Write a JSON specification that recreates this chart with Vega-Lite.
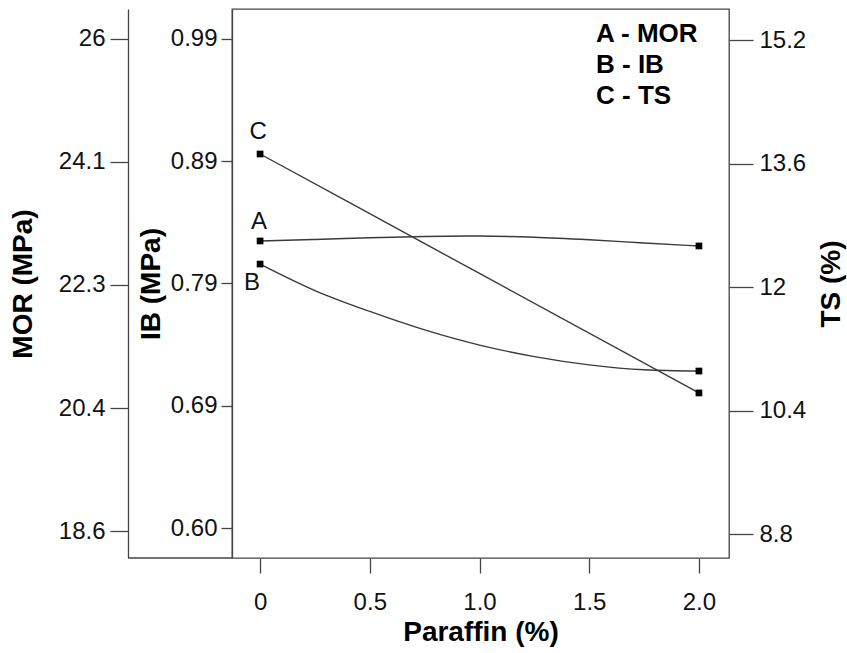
{
  "$schema": "https://vega.github.io/schema/vega-lite/v6.json",
  "width": 497,
  "height": 549,
  "autosize": {"type": "none"},
  "padding": {"left": 232, "top": 9, "right": 118, "bottom": 95},
  "background": "white",
  "config": {
    "font": "Liberation Sans",
    "view": {"stroke": "#444", "strokeWidth": 1.3},
    "axis": {
      "grid": false,
      "domainColor": "#444",
      "domainWidth": 1.3,
      "tickColor": "#444",
      "tickWidth": 1.3,
      "labelColor": "#111",
      "labelFont": "Liberation Sans",
      "labelFontSize": 24,
      "titleFont": "Liberation Sans",
      "titleFontSize": 28,
      "titleFontWeight": "bold",
      "titleColor": "#000"
    }
  },
  "data": {
    "values": [
      {"curve": "A", "paraffin": 0, "value": 22.962},
      {"curve": "A", "paraffin": 0.25, "value": 22.985},
      {"curve": "A", "paraffin": 0.5, "value": 23.010},
      {"curve": "A", "paraffin": 0.75, "value": 23.030},
      {"curve": "A", "paraffin": 1.0, "value": 23.037},
      {"curve": "A", "paraffin": 1.25, "value": 23.018},
      {"curve": "A", "paraffin": 1.5, "value": 22.980},
      {"curve": "A", "paraffin": 1.75, "value": 22.932},
      {"curve": "A", "paraffin": 2.0, "value": 22.887},
      {"curve": "B", "paraffin": 0, "value": 0.8105},
      {"curve": "B", "paraffin": 0.25, "value": 0.7894},
      {"curve": "B", "paraffin": 0.5, "value": 0.7727},
      {"curve": "B", "paraffin": 0.75, "value": 0.7580},
      {"curve": "B", "paraffin": 1.0, "value": 0.7459},
      {"curve": "B", "paraffin": 1.25, "value": 0.7367},
      {"curve": "B", "paraffin": 1.5, "value": 0.7301},
      {"curve": "B", "paraffin": 1.75, "value": 0.7262},
      {"curve": "B", "paraffin": 2.0, "value": 0.7252},
      {"curve": "C", "paraffin": 0, "value": 13.727},
      {"curve": "C", "paraffin": 1.0, "value": 12.178},
      {"curve": "C", "paraffin": 2.0, "value": 10.629}
    ]
  },
  "layer": [
    {
      "encoding": {
        "x": {
          "field": "paraffin",
          "type": "quantitative",
          "scale": {"domain": [-0.128, 2.137], "nice": false, "zero": false},
          "axis": {
            "title": "Paraffin (%)",
            "values": [0, 0.5, 1, 1.5, 2],
            "labelExpr": "datum.value == 0 ? '0' : format(datum.value, '.1f')",
            "tickSize": 15,
            "labelPadding": 17,
            "titlePadding": 4,
            "domain": false
          }
        },
        "y": {
          "field": "value",
          "type": "quantitative",
          "scale": {"domain": [18.194, 26.451], "nice": false, "zero": false},
          "axis": {
            "orient": "left",
            "offset": 104,
            "title": "MOR (MPa)",
            "values": [18.6, 20.45, 22.3, 24.15, 26],
            "labelExpr": "datum.value == 26 ? '26' : format(floor(datum.value * 10 + 0.000001) / 10, '.1f')",
            "tickSize": 18,
            "labelPadding": 5,
            "titlePadding": 21
          }
        }
      },
      "layer": [
        {
          "transform": [{"filter": "datum.curve == 'A'"}],
          "mark": {"type": "line", "color": "#3a3a3a", "strokeWidth": 1.4, "interpolate": "monotone"}
        },
        {
          "transform": [{"filter": "datum.curve == 'A' && (datum.paraffin == 0 || datum.paraffin == 2)"}],
          "mark": {"type": "point", "shape": "square", "filled": true, "size": 45, "opacity": 1},
          "encoding": {
            "color": {
              "field": "curve",
              "type": "nominal",
              "scale": {"domain": ["A", "B", "C"], "range": ["#000", "#000", "#000"]},
              "legend": {
                "title": null,
                "orient": "none",
                "legendX": 338,
                "legendY": 12,
                "padding": 0,
                "symbolSize": 0,
                "symbolOpacity": 0,
                "symbolStrokeWidth": 0,
                "labelOffset": 0,
                "labelFontSize": 26,
                "labelFontWeight": "bold",
                "labelColor": "#000",
                "labelFont": "Liberation Sans",
                "rowPadding": 5,
                "labelExpr": "datum.label == 'A' ? 'A - MOR' : datum.label == 'B' ? 'B - IB' : 'C - TS'"
              }
            }
          }
        },
        {
          "transform": [{"filter": "datum.curve == 'A' && datum.paraffin == 0"}],
          "mark": {"type": "text", "fontSize": 24, "color": "#111", "dy": -19, "dx": -1},
          "encoding": {"text": {"field": "curve"}}
        }
      ]
    },
    {
      "encoding": {
        "x": {
          "field": "paraffin",
          "type": "quantitative",
          "scale": {"domain": [-0.128, 2.137], "nice": false, "zero": false},
          "axis": {
            "title": "Paraffin (%)",
            "values": [0, 0.5, 1, 1.5, 2],
            "labelExpr": "datum.value == 0 ? '0' : format(datum.value, '.1f')",
            "tickSize": 15,
            "labelPadding": 17,
            "titlePadding": 4,
            "domain": false
          }
        },
        "y": {
          "field": "value",
          "type": "quantitative",
          "scale": {"domain": [0.5761, 1.0139], "nice": false, "zero": false},
          "axis": {
            "orient": "left",
            "offset": 0,
            "title": "IB (MPa)",
            "values": [0.6, 0.6975, 0.795, 0.8925, 0.99],
            "labelExpr": "format(floor(datum.value * 100 + 0.000001) / 100, '.2f')",
            "tickSize": 11,
            "labelPadding": 4,
            "titlePadding": 5
          }
        }
      },
      "layer": [
        {
          "transform": [{"filter": "datum.curve == 'B'"}],
          "mark": {"type": "line", "color": "#3a3a3a", "strokeWidth": 1.4, "interpolate": "monotone"}
        },
        {
          "transform": [{"filter": "datum.curve == 'B' && (datum.paraffin == 0 || datum.paraffin == 2)"}],
          "mark": {"type": "point", "shape": "square", "filled": true, "size": 45, "opacity": 1},
          "encoding": {"color": {"field": "curve", "type": "nominal"}}
        },
        {
          "transform": [{"filter": "datum.curve == 'B' && datum.paraffin == 0"}],
          "mark": {"type": "text", "fontSize": 24, "color": "#111", "dy": 19, "dx": -8},
          "encoding": {"text": {"field": "curve"}}
        }
      ]
    },
    {
      "encoding": {
        "x": {
          "field": "paraffin",
          "type": "quantitative",
          "scale": {"domain": [-0.128, 2.137], "nice": false, "zero": false},
          "axis": {
            "title": "Paraffin (%)",
            "values": [0, 0.5, 1, 1.5, 2],
            "labelExpr": "datum.value == 0 ? '0' : format(datum.value, '.1f')",
            "tickSize": 15,
            "labelPadding": 17,
            "titlePadding": 4,
            "domain": false
          }
        },
        "y": {
          "field": "value",
          "type": "quantitative",
          "scale": {"domain": [8.489, 15.607], "nice": false, "zero": false},
          "axis": {
            "orient": "right",
            "title": "TS (%)",
            "titleAngle": 270,
            "titleBaseline": "top",
            "values": [8.8, 10.4, 12, 13.6, 15.2],
            "labelExpr": "datum.value == 12 ? '12' : format(datum.value, '.1f')",
            "tickSize": 24,
            "labelPadding": 6,
            "titlePadding": 12,
            "domain": false
          }
        }
      },
      "layer": [
        {
          "transform": [{"filter": "datum.curve == 'C'"}],
          "mark": {"type": "line", "color": "#3a3a3a", "strokeWidth": 1.4, "interpolate": "monotone"}
        },
        {
          "transform": [{"filter": "datum.curve == 'C' && (datum.paraffin == 0 || datum.paraffin == 2)"}],
          "mark": {"type": "point", "shape": "square", "filled": true, "size": 45, "opacity": 1},
          "encoding": {"color": {"field": "curve", "type": "nominal"}}
        },
        {
          "transform": [{"filter": "datum.curve == 'C' && datum.paraffin == 0"}],
          "mark": {"type": "text", "fontSize": 24, "color": "#111", "dy": -22, "dx": -2},
          "encoding": {"text": {"field": "curve"}}
        }
      ]
    },
    {
      "data": {"values": [{"edge": "baseline"}]},
      "mark": {"type": "rule", "color": "#444", "strokeWidth": 1.3},
      "encoding": {
        "x": {
          "datum": -0.6,
          "type": "quantitative",
          "axis": {
            "title": "Paraffin (%)",
            "values": [0, 0.5, 1, 1.5, 2],
            "labelExpr": "datum.value == 0 ? '0' : format(datum.value, '.1f')",
            "tickSize": 15,
            "labelPadding": 17,
            "titlePadding": 4,
            "domain": false
          }
        },
        "x2": {"datum": -0.128},
        "y": {"datum": 0, "type": "quantitative", "scale": {"domain": [0, 1], "nice": false, "zero": false}, "axis": null}
      }
    }
  ],
  "resolve": {"scale": {"y": "independent"}, "axis": {"y": "independent"}}
}
